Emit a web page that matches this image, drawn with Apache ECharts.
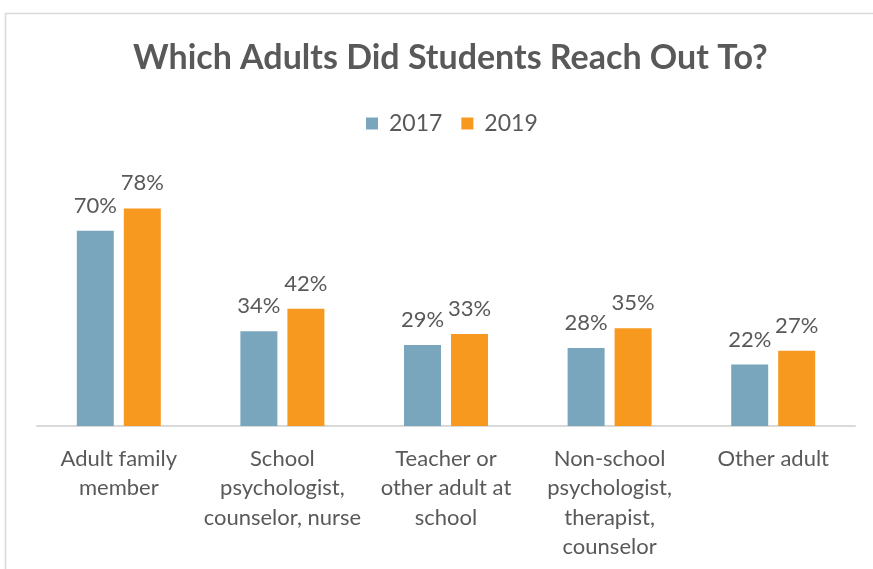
<!DOCTYPE html>
<html><head><meta charset="utf-8">
<script src="https://cdn.jsdelivr.net/npm/echarts@6/dist/echarts.min.js"></script>
<style>html,body{margin:0;padding:0;background:#fff;}#c{width:873px;height:569px;}</style>
</head><body><div id="c"></div>
<script>
const categories = ["Adult family\nmember", "School\npsychologist,\ncounselor, nurse", "Teacher or\nother adult at\nschool", "Non-school\npsychologist,\ntherapist,\ncounselor", "Other adult"];
const values2017 = [70, 34, 29, 28, 22];
const values2019 = [78, 42, 33, 35, 27];
const seriesNames = ["2017", "2019"];
const FONT = "Lato";
const chart = echarts.init(document.getElementById('c'), null, {renderer: 'canvas'});
const labelStyle = {show: true, position: 'top', distance: 14, formatter: '{c}%', color: '#595959', fontFamily: FONT, fontSize: 22};
chart.setOption({
  animation: false,
  backgroundColor: '#fff',
  title: {text: 'Which Adults Did Students Reach Out To?', left: 128, top: 36,
    textStyle: {fontFamily: FONT, fontWeight: 'bold', fontSize: 34, color: '#595959'}},
  legend: {top: 107, left: 361, itemWidth: 12, itemHeight: 12, itemGap: 19,
    icon: 'rect', textStyle: {fontFamily: FONT, fontSize: 23, color: '#595959', padding: [0, 0, 0, 6]}},
  grid: {left: 37, right: 18, top: 147, bottom: 143},
  xAxis: {type: 'category', data: categories,
    axisLine: {lineStyle: {color: '#d9d9d9', width: 2}}, axisTick: {show: false},
    axisLabel: {fontFamily: FONT, fontSize: 22, color: '#595959', lineHeight: 29.5, margin: 18, interval: 0}},
  yAxis: {type: 'value', min: 0, max: 100, show: false, splitLine: {show: false}},
  graphic: [
    {type: 'line', shape: {x1: 5.5, y1: 13, x2: 5.5, y2: 569}, style: {stroke: '#d9d9d9', lineWidth: 1.5}},
    {type: 'line', shape: {x1: 5, y1: 13.5, x2: 873, y2: 13.5}, style: {stroke: '#d9d9d9', lineWidth: 1.5}}
  ],
  series: [
    {name: seriesNames[0], type: 'bar', data: values2017, barWidth: 37, barGap: '27%',
      itemStyle: {color: '#7AA6BD'}, label: labelStyle},
    {name: seriesNames[1], type: 'bar', data: values2019, barWidth: 37,
      itemStyle: {color: '#F7991E'}, label: labelStyle}
  ]
});
</script></body></html>
